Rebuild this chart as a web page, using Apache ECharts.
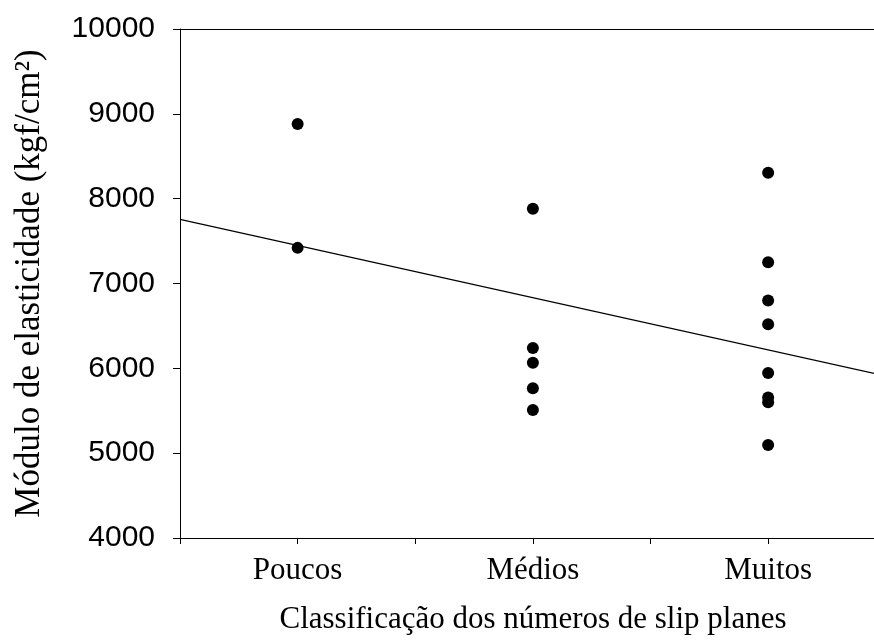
<!DOCTYPE html>
<html>
<head>
<meta charset="utf-8">
<script src="https://cdn.jsdelivr.net/npm/echarts@6/dist/echarts.min.js"></script>
<style>
html,body{margin:0;padding:0;background:#fff;}
#chart{width:874px;height:641px;}
</style>
</head>
<body>
<div id="chart"></div>
<script>
var categories = ['Poucos', 'Médios', 'Muitos'];
var poucosValues = [8880, 7420];
var mediosValues = [7880, 6240, 6065, 5765, 5510];
var muitosValues = [8305, 7250, 6800, 6520, 5945, 5655, 5600, 5095];
var fitLineX = [0.5, 3.45];
var fitLineY = [7755, 5940];
var yTicks = [4000, 5000, 6000, 7000, 8000, 9000, 10000];

var groups = [poucosValues, mediosValues, muitosValues];
var points = [];
groups.forEach(function (vals, i) {
  vals.forEach(function (v) { points.push([i + 1, v]); });
});
var fitData = fitLineX.map(function (x, i) { return [x, fitLineY[i]]; });

var chart = echarts.init(document.getElementById('chart'), null, {renderer: 'canvas'});
var serif = '"Liberation Serif", "Times New Roman", serif';
var sans = '"Liberation Sans", Arial, sans-serif';
chart.setOption({
  animation: false,
  backgroundColor: '#fff',
  grid: {left: 180, right: 0, top: 29, bottom: 103, containLabel: false},
  xAxis: [{
    type: 'value',
    min: 0.5,
    max: 3.45,
    interval: 0.5,
    splitLine: {show: false},
    axisLine: {show: true, lineStyle: {color: '#000', width: 1}},
    axisTick: {show: true, length: 6, lineStyle: {color: '#000', width: 1}},
    axisLabel: {
      show: true,
      margin: 17,
      fontFamily: serif,
      fontSize: 31,
      color: '#000',
      showMaxLabel: false,
      formatter: function (v) {
        var idx = Math.round(v) - 1;
        if (Math.abs(v - Math.round(v)) < 1e-6 && idx >= 0 && idx < categories.length) return categories[idx];
        return '';
      }
    },
    name: 'Classificação dos números de slip planes',
    nameLocation: 'middle',
    nameGap: 66,
    nameTextStyle: {fontFamily: serif, fontSize: 31, color: '#000', padding: [0, 0, 0, 12]}
  }, {
    type: 'value',
    position: 'top',
    min: 0.5,
    max: 3.45,
    axisLine: {show: true, lineStyle: {color: '#000', width: 1}},
    axisTick: {show: false},
    axisLabel: {show: false},
    splitLine: {show: false}
  }],
  yAxis: {
    type: 'value',
    min: 4000,
    max: 10000,
    interval: 1000,
    splitLine: {show: false},
    axisLine: {show: true, lineStyle: {color: '#000', width: 1}},
    axisTick: {show: true, length: 7, lineStyle: {color: '#000', width: 1}},
    axisLabel: {
      margin: 25,
      fontFamily: sans,
      fontSize: 30,
      color: '#000',
      formatter: function (v) { return yTicks.indexOf(v) >= 0 ? String(v) : ''; }
    },
    name: 'Módulo de elasticidade (kgf/cm²)',
    nameLocation: 'middle',
    nameGap: 133,
    nameRotate: 90,
    nameTextStyle: {fontFamily: serif, fontSize: 35, color: '#000'}
  },
  series: [{
    type: 'line',
    data: fitData,
    xAxisIndex: 0,
    showSymbol: false,
    symbol: 'none',
    lineStyle: {color: '#000', width: 1.2},
    silent: true,
    z: 2
  }, {
    type: 'scatter',
    data: points,
    xAxisIndex: 0,
    symbol: 'circle',
    symbolSize: 12,
    itemStyle: {color: '#000', opacity: 1},
    z: 3
  }]
});
</script>
</body>
</html>
